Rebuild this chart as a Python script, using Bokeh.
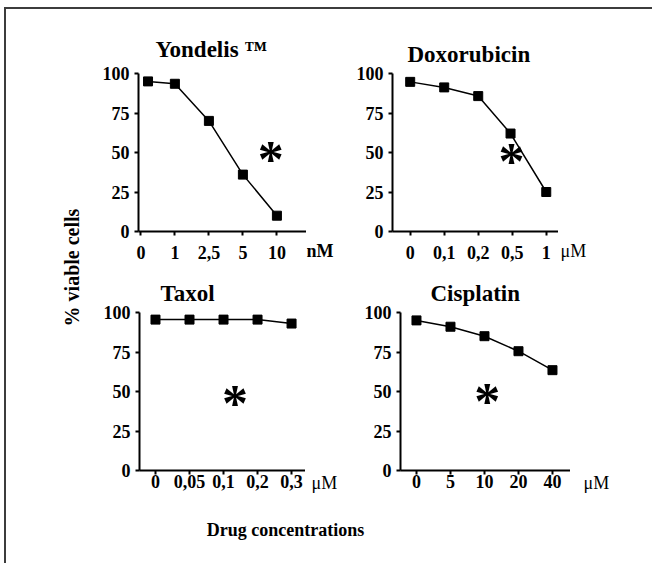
import math
from bokeh.plotting import figure
from bokeh.layouts import row, column
from bokeh.models import Range1d, FixedTicker
from bokeh.embed import file_html
from bokeh.resources import INLINE
from bokeh.core.properties import value

FONT = "Liberation Serif"

# ---- data ----
yon_labels = ["0", "1", "2,5", "5", "10"]
yon_pos = [0.21, 1, 2, 3, 4]
yon_vals = [95, 93.5, 70, 36, 10]

dox_labels = ["0", "0,1", "0,2", "0,5", "1"]
dox_pos = [0, 1, 2, 2.95, 4]
dox_vals = [94.7, 91.2, 85.7, 62, 25]

tax_labels = ["0", "0,05", "0,1", "0,2", "0,3"]
tax_pos = [0, 1, 2, 3, 4]
tax_vals = [95.5, 95.5, 95.5, 95.5, 93]

cis_labels = ["0", "5", "10", "20", "40"]
cis_pos = [0, 1, 2, 3, 4]
cis_vals = [95, 91, 85, 75.5, 63.5]

y_ticks = [0, 25, 50, 75, 100]


def panel(w, h, bl, bt, bb, xr, pos, vals, labels, title, t_off, t_stand,
          star_xy, x_standoff):
    p = figure(width=w, height=h, x_range=Range1d(*xr), y_range=Range1d(0, 100),
               output_backend="svg", toolbar_location=None, frame_align=False,
               min_border_left=bl, min_border_right=0,
               min_border_top=bt, min_border_bottom=bb)
    p.grid.visible = False
    p.outline_line_color = None
    p.background_fill_color = "white"
    p.border_fill_color = "white"
    p.title.text = title
    p.title.align = "left"
    p.title.offset = t_off
    p.title.standoff = t_stand
    p.title.text_font = FONT
    p.title.text_font_style = "bold"
    p.title.text_font_size = "23px"
    p.title.text_color = "black"
    for ax in (p.xaxis, p.yaxis):
        ax.axis_line_width = 2
        ax.axis_line_color = "black"
        ax.major_tick_line_width = 2
        ax.major_tick_line_color = "black"
        ax.major_tick_in = 0
        ax.major_tick_out = 4
        ax.minor_tick_line_color = None
        ax.major_label_text_font = FONT
        ax.major_label_text_font_style = "bold"
        ax.major_label_text_font_size = "18px"
        ax.major_label_text_color = "black"
    p.xaxis.ticker = FixedTicker(ticks=[0, 1, 2, 3, 4])
    p.xaxis.major_label_overrides = {i: lab for i, lab in enumerate(labels)}
    p.xaxis.major_label_standoff = x_standoff
    p.yaxis.ticker = FixedTicker(ticks=y_ticks)
    p.yaxis.major_label_standoff = 5

    p.line(pos, vals, line_width=1.5, line_color="black")
    p.scatter(pos, vals, marker="square", size=9, fill_color="black",
              line_color="black")
    p.text([star_xy[0]], [star_xy[1]], text=["*"], text_font=value(FONT),
           text_font_style="bold", text_font_size="52px", text_align="center",
           text_baseline="middle", y_offset=7, text_color="black")
    return p


def text_fig(w, h, x, y_top, txt, size, style="bold", angle=0,
             align="center", baseline="middle"):
    f = figure(width=w, height=h, x_range=Range1d(0, w),
               y_range=Range1d(0, h), output_backend="svg",
               toolbar_location=None, min_border=0, frame_align=False)
    f.axis.visible = False
    f.grid.visible = False
    f.outline_line_color = None
    f.background_fill_color = "white"
    f.border_fill_color = "white"
    f.text([x], [h - y_top], text=[txt], text_font=value(FONT),
           text_font_style=style, text_font_size=size, text_align=align,
           text_baseline=baseline, angle=angle, text_color="black")
    return f


H1, H2 = 263, 228

tl = panel(216, H1, 48, 64, 41, (-0.07, 4.87), yon_pos, yon_vals, yon_labels,
           "Yondelis \u2122", 17, 24, (3.82, 50), 10)
tl_u = text_fig(29, H1, 0, 241, "nM", "18px", align="left")
tr = panel(223, H1, 57, 64, 41, (-0.52, 4.36), dox_pos, dox_vals, dox_labels,
           "Doxorubicin", 15, 13, (2.98, 48.5), 10)
tr_u = text_fig(92, H1, 2, 241, "μM", "18px", style="normal", align="left")

bl = panel(215, H2, 49, 40, 30, (-0.47, 4.41), tax_pos, tax_vals, tax_labels,
           "Taxol", 21, 13, (2.34, 46.7), 0)
bl_u = text_fig(36, H2, 6, 210, "μM", "18px", style="normal", align="left")
br = panel(229, H2, 59, 40, 30, (-0.47, 4.53), cis_pos, cis_vals, cis_labels,
           "Cisplatin", 30, 13, (2.08, 48), 0)
br_u = text_fig(74, H2, 13, 210, "μM", "18px", style="normal", align="left")

ylab = text_fig(84, H1 + H2, 65, 258, "% viable cells", "20px", angle=math.pi / 2)
xlab = text_fig(646, 63, 279, 29, "Drug concentrations", "18px")

grid = column(row(tl, tl_u, tr, tr_u), row(bl, bl_u, br, br_u))
layout = column(row(ylab, grid), xlab, margin=(7, 0, 0, 4),
                styles={"border-top": "2px solid #3c3c3c",
                        "border-left": "2px solid #3c3c3c"})

open("out.html", "w").write(file_html(layout, INLINE))
